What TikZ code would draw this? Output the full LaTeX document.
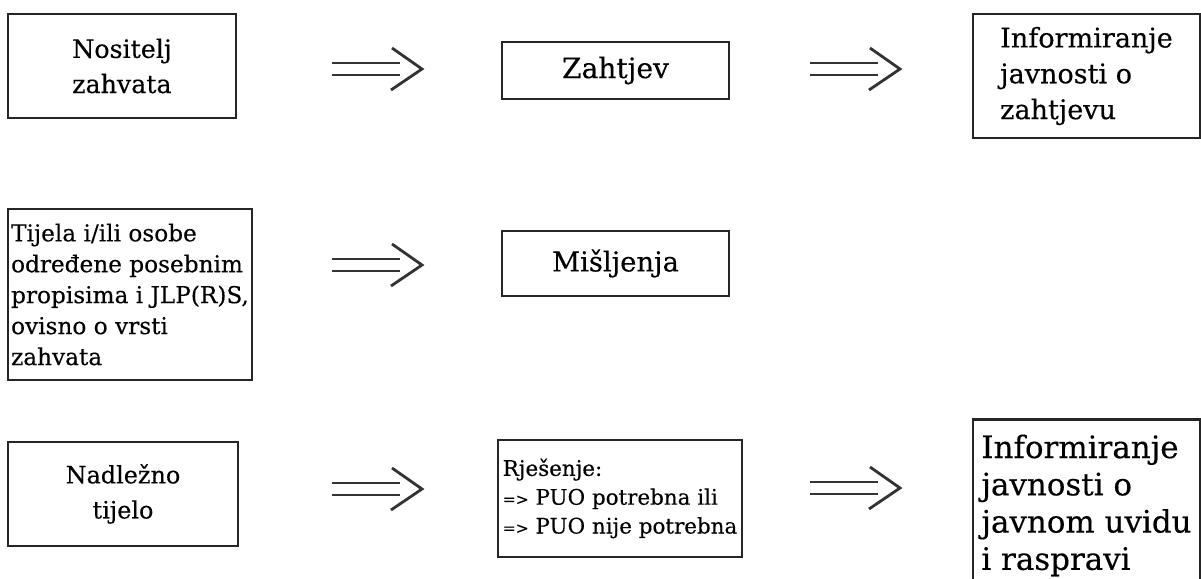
\documentclass[tikz,border=0pt]{standalone}
\usepackage{fontspec}
\setmainfont{DejaVu Serif}[FakeBold=0.3]
\usetikzlibrary{calc}
\newcommand{\impl}[1]{%
  \draw[implline] ($(#1)+(-90,-6)$) -- ($(#1)+(-22,-6)$);
  \draw[implline] ($(#1)+(-90,6)$) -- ($(#1)+(-22,6)$);
  \draw[implline] ($(#1)+(-30,-21)$) -- (#1) -- ($(#1)+(-31,21)$);}
\newcommand{\ia}{{\fontsize{22pt}{41pt}\selectfont=>}}

\begin{document}
\begin{tikzpicture}[x=0.05cm,y=-0.05cm]
    \tikzset{box/.style={draw=black!85,line width=4pt,inner sep=0pt,font=\fontsize{38pt}{50pt}\selectfont},
             wh/.style 2 args={minimum width=#1*0.05cm,minimum height=#2*0.05cm},
             implline/.style={draw=black!80,line width=4pt}}
    \useasboundingbox[fill=white] (0,0) rectangle (1201,578);
    % first row
    \node[box,wh={228}{104},align=left,font=\fontsize{36pt}{50pt}\selectfont] (nos) at (122,66) {Nositelj\\zahvata};
    \node[box,wh={227}{57},font=\fontsize{40pt}{50pt}\selectfont] (zah) at (615.5,70.5) {Zahtjev};
    \node[box,wh={227}{124},align=left,font=\fontsize{38.5pt}{51pt}\selectfont] (infz) at (1086.5,76) {Informiranje\\javnosti o\\zahtjevu};
    % second row
    \node[box,wh={244}{171},align=left,font=\fontsize{33pt}{44pt}\selectfont] (tij) at (130,294.5) {Tijela i/ili osobe\\određene posebnim\\propisima i JLP(R)S,\\ovisno o vrsti\\zahvata};
    \node[box,wh={227}{65},font=\fontsize{39pt}{50pt}\selectfont] (mis) at (615.5,263.5) {Mišljenja};
    % third row
    \node[box,wh={230}{104},align=center,font=\fontsize{34pt}{50pt}\selectfont] (nad) at (123,494) {Nadležno\\tijelo};
    \node[box,wh={244}{117},align=left,font=\fontsize{30.5pt}{41pt}\selectfont] (rje) at (620,498.5) {Rješenje:\\\ia{} PUO potrebna ili\\\ia{} PUO nije potrebna};
    \node[box,wh={227}{172},align=left,font=\fontsize{44pt}{53pt}\selectfont,anchor=north] (infr) at (1086.5,418) {Informiranje\\javnosti o\\javnom uvidu\\i raspravi};
    % arrows
    \coordinate (nz) at (422,69);
    \coordinate (zi) at (900,69);
    \coordinate (tm) at (422,265);
    \coordinate (nr) at (422,489);
    \coordinate (ri) at (900,488);
    \impl{nz} \impl{zi} \impl{tm} \impl{nr} \impl{ri}
\end{tikzpicture}
\end{document}
